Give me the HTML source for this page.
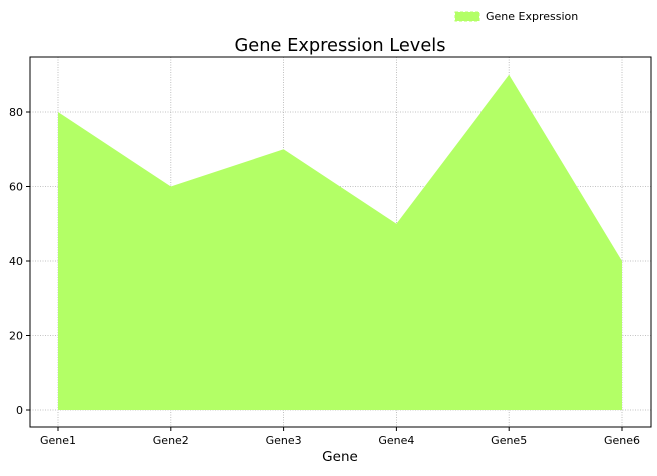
<!DOCTYPE html>
<html><head><meta charset="utf-8"><style>
body{margin:0;background:#fff}
svg{font-family:"DejaVu Sans","Liberation Sans",sans-serif}
</style></head><body>
<svg id="c" width="657" height="471" xmlns="http://www.w3.org/2000/svg">
<text x="340" y="51" font-size="17.8" text-anchor="middle">Gene Expression Levels</text>
<g>
<rect x="455" y="12" width="24" height="9" fill="#b3ff66" stroke="#b3ff66" stroke-dasharray="3,2"/>
<text x="486" y="20" font-size="11">Gene Expression</text>
</g>
<g id="grid"></g>
<g id="area"></g>
<g id="axes"></g>
<text x="340" y="461" font-size="13.5" text-anchor="middle">Gene</text>
</svg>
<script>
const categories=["Gene1","Gene2","Gene3","Gene4","Gene5","Gene6"];
const values=[80,60,70,50,90,40];
const yTicks=[0,20,40,60,80];
const NS="http://www.w3.org/2000/svg";
const L=30,R=651,T=57,B=427;
const x0=58,x1=622;
const xs=i=>x0+(x1-x0)*i/(categories.length-1);
const ys=v=>410-v*(410-112)/80;
function mk(t,a,p){const e=document.createElementNS(NS,t);for(const k in a)e.setAttribute(k,a[k]);p.appendChild(e);return e;}
const grid=document.getElementById('grid'),area=document.getElementById('area'),axes=document.getElementById('axes');
categories.forEach((c,i)=>{
 const g=mk('line',{x1:xs(i),x2:xs(i),y1:T,y2:B,stroke:'#b0b0b0','stroke-width':0.8,'stroke-dasharray':'1,1.5'},grid);
 
 
 const tk=mk('line',{x1:xs(i),x2:xs(i),y1:B,y2:B+4,stroke:'#000'},axes);
 
 
 const t=mk('text',{x:xs(i),y:B+17,'font-size':11,'text-anchor':'middle'},axes);t.textContent=c;
 
 
});
yTicks.forEach(v=>{
 const g=mk('line',{x1:L,x2:R,y1:ys(v),y2:ys(v),stroke:'#b0b0b0','stroke-width':0.8,'stroke-dasharray':'1,1.5'},grid);
 
 
 const tk=mk('line',{x1:L-4,x2:L,y1:ys(v),y2:ys(v),stroke:'#000'},axes);
 
 
 const t=mk('text',{x:L-7,y:ys(v)+4,'font-size':11,'text-anchor':'end'},axes);t.textContent=v;
 
 
});
let d='M'+xs(0)+','+ys(0);
values.forEach((v,i)=>d+=' L'+xs(i)+','+ys(v));
d+=' L'+xs(values.length-1)+','+ys(0)+' Z';
const p=mk('path',{d:d,fill:'#b3ff66'},area);


const f=mk('rect',{x:L,y:T,width:R-L,height:B-T,fill:'none',stroke:'#000','stroke-width':1},axes);


</script>
</body></html>
